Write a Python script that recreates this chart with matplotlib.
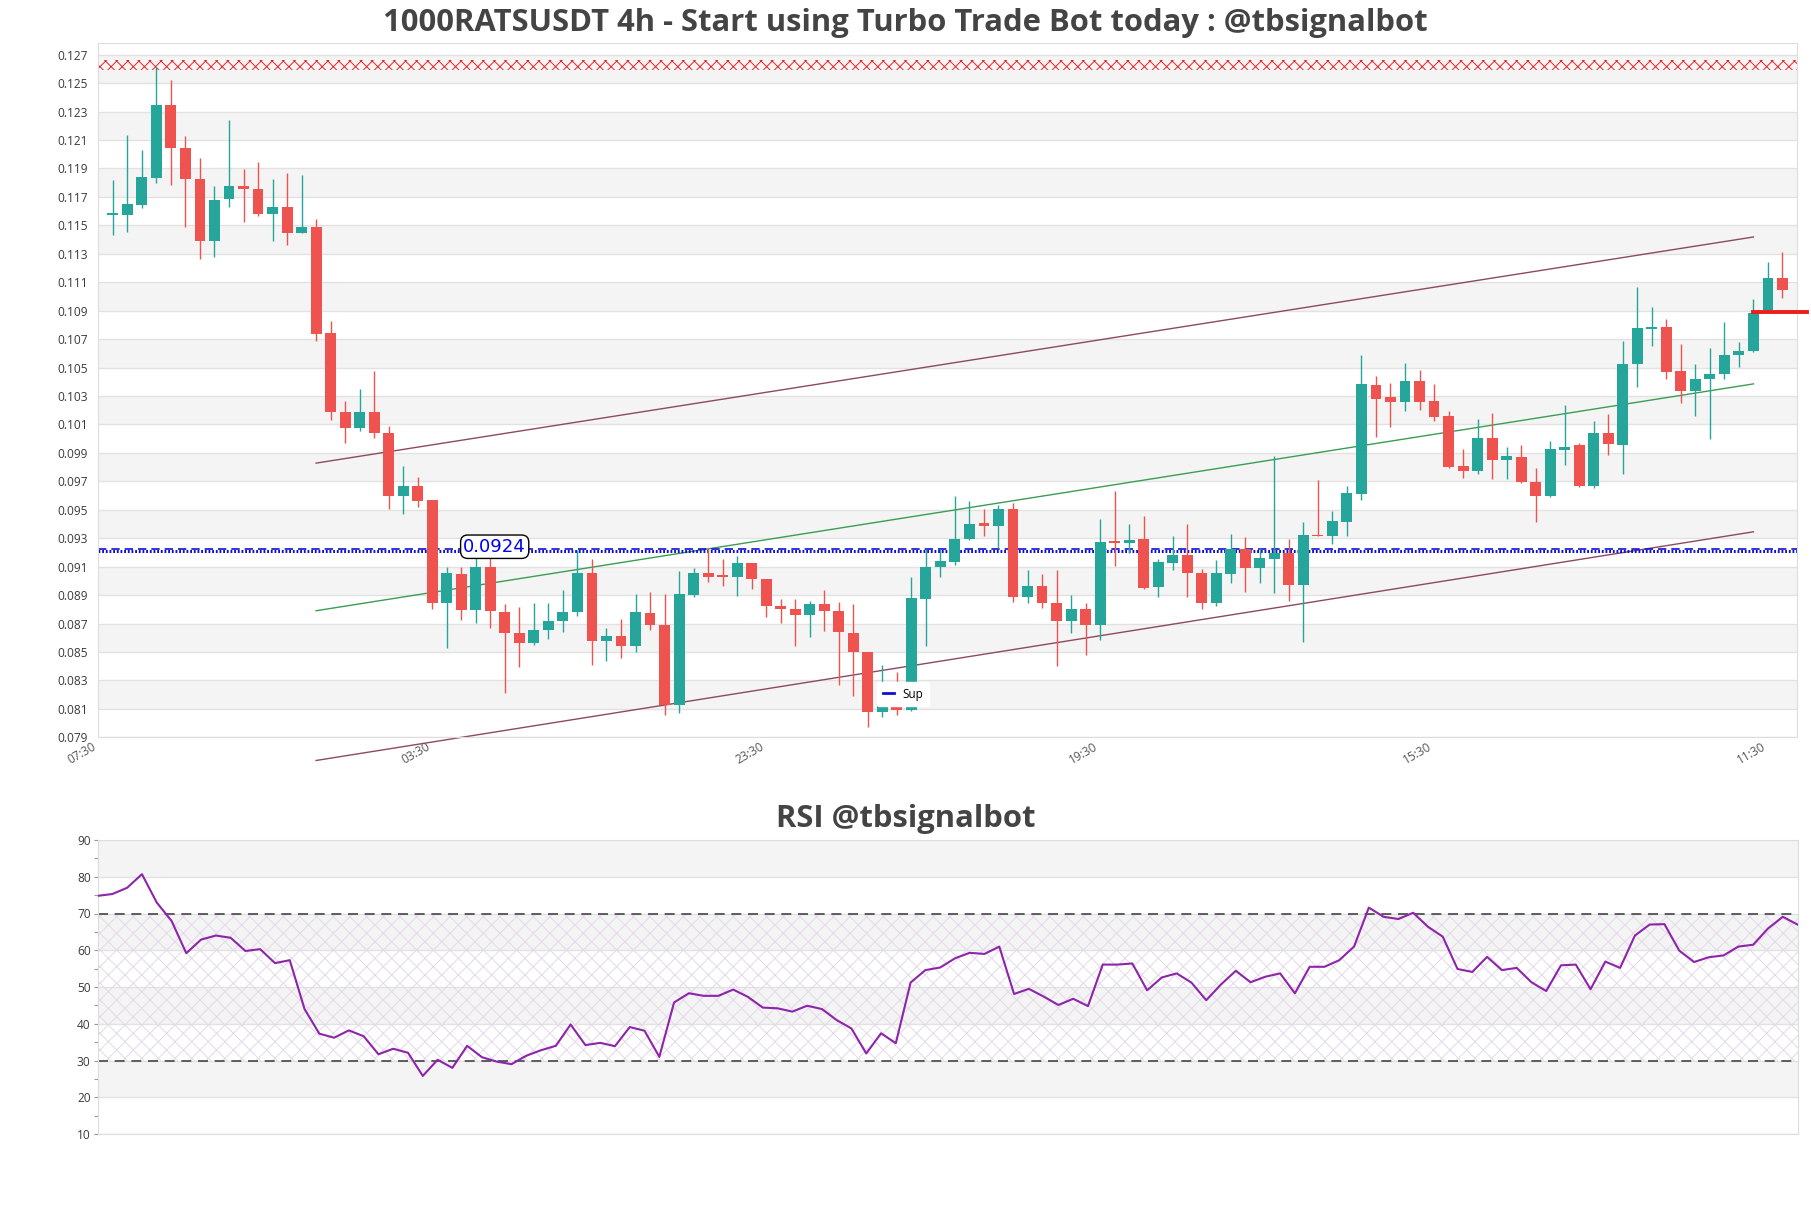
import matplotlib
matplotlib.use("Agg")
import matplotlib.pyplot as plt
from matplotlib.lines import Line2D
import numpy as np

# 4h candles
opens = [0.11570, 0.11575, 0.11645, 0.11836, 0.12349, 0.12047, 0.11824, 0.11387, 0.11682, 0.11777,
         0.11755, 0.11582, 0.11629, 0.11443, 0.11487, 0.10742, 0.10189, 0.10075, 0.10189, 0.10038,
         0.09597, 0.09667, 0.09566, 0.08843, 0.09050, 0.08792, 0.09101, 0.08780, 0.08634, 0.08564,
         0.08658, 0.08716, 0.08782, 0.09053, 0.08575, 0.08613, 0.08540, 0.08771, 0.08693, 0.08124,
         0.08900, 0.09053, 0.09037, 0.09027, 0.09124, 0.09015, 0.08822, 0.08804, 0.08759, 0.08839,
         0.08787, 0.08634, 0.08498, 0.08076, 0.08269, 0.08093, 0.08872, 0.09100, 0.09133, 0.09293,
         0.09406, 0.09387, 0.09505, 0.08886, 0.08961, 0.08846, 0.08716, 0.08799, 0.08688, 0.09274,
         0.09265, 0.09293, 0.08959, 0.09128, 0.09180, 0.09058, 0.08841, 0.09046, 0.09227, 0.09088,
         0.09152, 0.09199, 0.08970, 0.09323, 0.09316, 0.09415, 0.09611, 0.10378, 0.10291, 0.10260,
         0.10404, 0.10262, 0.10156, 0.09809, 0.09774, 0.10008, 0.09850, 0.09873, 0.09696, 0.09595,
         0.09920, 0.09953, 0.09666, 0.10038, 0.09956, 0.10526, 0.10769, 0.10786, 0.10477, 0.10338,
         0.10420, 0.10456, 0.10590, 0.10614, 0.10887, 0.11128]
highs = [0.11820, 0.12135, 0.12031, 0.12616, 0.12525, 0.12129, 0.11975, 0.11777, 0.12239, 0.11893,
         0.11947, 0.11827, 0.11868, 0.11852, 0.11544, 0.10830, 0.10267, 0.10346, 0.10478, 0.10091,
         0.09808, 0.09730, 0.09570, 0.09094, 0.09101, 0.09189, 0.09189, 0.08837, 0.08815, 0.08846,
         0.08846, 0.08933, 0.09218, 0.09156, 0.08667, 0.08731, 0.08905, 0.08921, 0.08905, 0.09069,
         0.09093, 0.09234, 0.09152, 0.09175, 0.09124, 0.09015, 0.08869, 0.08874, 0.08858, 0.08933,
         0.08853, 0.08834, 0.08498, 0.08411, 0.08361, 0.09029, 0.09222, 0.09227, 0.09599, 0.09559,
         0.09505, 0.09535, 0.09547, 0.09074, 0.09046, 0.09074, 0.08898, 0.08846, 0.09434, 0.09629,
         0.09399, 0.09458, 0.09152, 0.09316, 0.09399, 0.09081, 0.09145, 0.09328, 0.09305, 0.09234,
         0.09881, 0.09293, 0.09411, 0.09709, 0.09488, 0.09670, 0.10585, 0.10444, 0.10392, 0.10533,
         0.10484, 0.10385, 0.10196, 0.09925, 0.10137, 0.10180, 0.09944, 0.09953, 0.09795, 0.09984,
         0.10236, 0.09967, 0.10121, 0.10173, 0.10687, 0.11064, 0.10927, 0.10838, 0.10666, 0.10524,
         0.10640, 0.10821, 0.10680, 0.10979, 0.11241, 0.11312]
lows = [0.11430, 0.11456, 0.11619, 0.11799, 0.11786, 0.11491, 0.11261, 0.11280, 0.11626, 0.11525,
        0.11563, 0.11390, 0.11365, 0.11443, 0.10689, 0.10132, 0.09969, 0.10053, 0.10006, 0.09503,
        0.09472, 0.09522, 0.08805, 0.08528, 0.08723, 0.08701, 0.08667, 0.08214, 0.08394, 0.08547,
        0.08592, 0.08641, 0.08752, 0.08406, 0.08434, 0.08455, 0.08498, 0.08653, 0.08055, 0.08070,
        0.08888, 0.08992, 0.08964, 0.08893, 0.08940, 0.08745, 0.08705, 0.08540, 0.08604, 0.08646,
        0.08269, 0.08192, 0.07975, 0.08041, 0.08055, 0.08088, 0.08540, 0.09029, 0.09112, 0.09288,
        0.09312, 0.09234, 0.08850, 0.08841, 0.08811, 0.08399, 0.08634, 0.08480, 0.08587, 0.09105,
        0.09199, 0.08940, 0.08888, 0.09076, 0.08888, 0.08799, 0.08822, 0.08982, 0.08921, 0.08988,
        0.08916, 0.08858, 0.08568, 0.09314, 0.09258, 0.09316, 0.09570, 0.10015, 0.10085, 0.10196,
        0.10203, 0.10125, 0.09793, 0.09722, 0.09748, 0.09717, 0.09717, 0.09689, 0.09411, 0.09590,
        0.09814, 0.09658, 0.09654, 0.09883, 0.09748, 0.10366, 0.10649, 0.10416, 0.10248, 0.10161,
        0.09996, 0.10420, 0.10503, 0.10610, 0.10887, 0.10986]
closes = [0.11590, 0.11651, 0.11840, 0.12349, 0.12047, 0.11824, 0.11387, 0.11676, 0.11777, 0.11752,
          0.11582, 0.11629, 0.11443, 0.11487, 0.10739, 0.10189, 0.10075, 0.10189, 0.10038, 0.09597,
          0.09667, 0.09560, 0.08843, 0.09057, 0.08792, 0.09101, 0.08786, 0.08632, 0.08564, 0.08658,
          0.08721, 0.08782, 0.09053, 0.08575, 0.08613, 0.08540, 0.08778, 0.08688, 0.08124, 0.08905,
          0.09058, 0.09030, 0.09030, 0.09128, 0.09011, 0.08822, 0.08799, 0.08759, 0.08839, 0.08787,
          0.08641, 0.08498, 0.08076, 0.08269, 0.08093, 0.08876, 0.09100, 0.09140, 0.09293, 0.09399,
          0.09387, 0.09505, 0.08886, 0.08961, 0.08841, 0.08716, 0.08799, 0.08688, 0.09274, 0.09265,
          0.09286, 0.08947, 0.09133, 0.09180, 0.09058, 0.08841, 0.09053, 0.09227, 0.09088, 0.09164,
          0.09199, 0.08970, 0.09321, 0.09314, 0.09418, 0.09615, 0.10387, 0.10279, 0.10260, 0.10404,
          0.10260, 0.10154, 0.09802, 0.09774, 0.10008, 0.09850, 0.09876, 0.09694, 0.09595, 0.09925,
          0.09944, 0.09666, 0.10038, 0.09960, 0.10526, 0.10781, 0.10786, 0.10472, 0.10338, 0.10420,
          0.10456, 0.10590, 0.10616, 0.10887, 0.11128, 0.11045]

rsi = [74.8, 75.3, 77.0, 80.7, 73.0, 68.0, 59.2, 62.9, 64.0, 63.4,
       59.8, 60.3, 56.5, 57.3, 44.0, 37.3, 36.2, 38.2, 36.6, 31.7,
       33.2, 32.1, 25.8, 30.2, 28.0, 34.0, 30.9, 29.7, 29.0, 31.3,
       32.8, 34.0, 39.8, 34.2, 34.8, 33.9, 39.1, 38.1, 31.0, 45.8,
       48.3, 47.6, 47.6, 49.3, 47.3, 44.4, 44.2, 43.3, 44.9, 44.0,
       41.0, 38.7, 31.9, 37.4, 34.7, 51.2, 54.6, 55.3, 57.8, 59.3,
       59.0, 61.0, 48.1, 49.5, 47.4, 45.1, 46.8, 44.8, 56.1, 56.1,
       56.4, 49.1, 52.6, 53.7, 51.2, 46.4, 50.7, 54.4, 51.3, 52.8,
       53.7, 48.3, 55.5, 55.5, 57.3, 61.0, 71.6, 69.1, 68.5, 70.2,
       66.4, 63.7, 54.9, 54.1, 58.2, 54.6, 55.2, 51.3, 48.9, 55.9,
       56.1, 49.4, 56.9, 55.2, 64.0, 67.0, 67.1, 59.9, 56.8, 58.1,
       58.6, 61.0, 61.5, 65.9, 69.1, 67.0]

# x tick positions (candle index) and labels
tick_idx = [-1, 22, 45, 68, 91, 114]
tick_labels = ["07:30", "03:30", "23:30", "19:30", "15:30", "11:30"]
price_ticks = [0.079, 0.081, 0.083, 0.085, 0.087, 0.089, 0.091, 0.093, 0.095, 0.097, 0.099, 0.101, 0.103,
               0.105, 0.107, 0.109, 0.111, 0.113, 0.115, 0.117, 0.119, 0.121, 0.123, 0.125, 0.127]
rsi_ticks = [10, 20, 30, 40, 50, 60, 70, 80, 90]

# drawn levels
trend_x = [14, 113]
upper_trend = [0.09828, 0.11418]
mid_trend = [0.08790, 0.10385]
lower_trend = [0.07737, 0.09345]
sup_dash = 0.09225
sup_dot = 0.09210
sup_label = 0.0924
sup_label_x = 26.3
res_zone = (0.12594, 0.12662)
last_level = 0.10889
last_level_x = [113, 116.7]

GREEN = "#26a69a"
RED = "#ef5350"
BAND = "#f4f4f4"
GRID = "#e2e2e2"

plt.rcParams["font.family"] = ["Open Sans", "DejaVu Sans"]
plt.rcParams["hatch.linewidth"] = 0.7

W, H = 1811, 1208
fig = plt.figure(figsize=(W / 100, H / 100), dpi=100)
ax = fig.add_axes([97.6 / W, 1 - 737.3 / H, (1797 - 97.6) / W, (737.3 - 43.3) / H])
ax2 = fig.add_axes([97.6 / W, 1 - 1134 / H, (1797.5 - 97.6) / W, (1134 - 840) / H])

# ---- price panel ----
for lo in price_ticks[1:-1:2]:
    ax.axhspan(lo, lo + 0.002, color=BAND, lw=0, zorder=0)
for t in price_ticks:
    ax.axhline(t, color=GRID, lw=1, zorder=0.5)

ax.fill_between([-1.1, 116.1], res_zone[0], res_zone[1], facecolor="#fff4f4",
                edgecolor="#e02828", hatch="xxx", lw=0, zorder=1)

x = np.arange(len(opens))
o = np.array(opens)
c = np.array(closes)
cols = np.where(c >= o, GREEN, RED)
ax.vlines(x, lows, highs, colors=cols, lw=1, zorder=3)
ax.bar(x, np.maximum(np.abs(c - o), 0.00012), bottom=np.minimum(o, c), width=0.75,
       color=cols, zorder=4)

ax.plot(trend_x, upper_trend, color="#8c4a62", lw=1, zorder=2, clip_on=False)
ax.plot(trend_x, mid_trend, color="#3a9e52", lw=1, zorder=2, clip_on=False)
ax.plot(trend_x, lower_trend, color="#8c4a62", lw=1, zorder=2, clip_on=False)

ax.axhline(sup_dash, color="#1010d0", lw=1.2, ls=(0, (5, 3)), zorder=2)
ax.axhline(sup_dot, color="#1010d0", lw=2.2, ls=(0, (0.6, 0.6)), zorder=2)
ax.text(sup_label_x, sup_label, "0.0924", color="#0000ee", fontsize=13, ha="center", va="center",
        family="DejaVu Sans", zorder=6,
        bbox=dict(boxstyle="round,pad=0.15,rounding_size=0.4", fc="white", ec="black", lw=1))

ax.plot(last_level_x, [last_level, last_level], color="#ee1c1c", lw=2.8, zorder=5, clip_on=False)

ax.legend(handles=[Line2D([], [], color="#1010d0", lw=2, label="Sup")], loc="lower left",
          bbox_to_anchor=(0.455, 0.036), fontsize=8.5, handlelength=1.0, handletextpad=0.7,
          frameon=True, framealpha=1, edgecolor="white", borderpad=0.5)

ax.set_xlim(-1.05, 116.0)
ax.set_ylim(0.079, 0.1278)
ax.set_yticks(price_ticks)
ax.set_yticklabels([f"{t:.3f}" for t in price_ticks])
ax.set_xticks(tick_idx)
ax.set_xticklabels(tick_labels, rotation=30, ha="right")
ax.tick_params(axis="y", length=0, pad=7, labelsize=8.6, labelcolor="#3a3a3a")
ax.tick_params(axis="x", length=0, pad=2, labelsize=8.6, labelcolor="#555555")
for s in ax.spines.values():
    s.set_color("#dddddd")

fig.text(0.5, 1 - 23 / H, "1000RATSUSDT 4h - Start using Turbo Trade Bot today : @tbsignalbot",
         ha="center", va="center", fontsize=22.3, fontweight="bold", color="#444444")

# ---- RSI panel ----
for lo in [20, 40, 60, 80]:
    ax2.axhspan(lo, lo + 10, color=BAND, lw=0, zorder=0)
for t in rsi_ticks:
    ax2.axhline(t, color=GRID, lw=1, zorder=0.5)
ax2.fill_between([0, len(rsi) - 1], 30, 70, facecolor="none", edgecolor="#e4d9ea",
                 hatch="xx", lw=0, zorder=1)
ax2.axhline(70, color="#444444", lw=1.2, ls=(0, (6, 4)), zorder=2)
ax2.axhline(30, color="#444444", lw=1.2, ls=(0, (6, 4)), zorder=2)
ax2.plot(np.arange(len(rsi)), rsi, color="#8e24aa", lw=1.5, zorder=3)

ax2.set_xlim(0, len(rsi) - 1)
ax2.set_ylim(10, 90)
ax2.set_yticks(rsi_ticks)
ax2.set_yticks([15, 25, 35, 45, 55, 65, 75, 85], minor=True)
ax2.set_xticks([])
ax2.tick_params(axis="y", which="both", length=3, width=0.8, color="#999999", pad=2,
                labelsize=8.6, labelcolor="#3a3a3a")
for s in ax2.spines.values():
    s.set_color("#dddddd")

fig.text(0.5, 1 - 819 / H, "RSI @tbsignalbot", ha="center", va="center", fontsize=22.3,
         fontweight="bold", color="#444444")

fig.savefig("out.png", dpi=100, facecolor="white")
